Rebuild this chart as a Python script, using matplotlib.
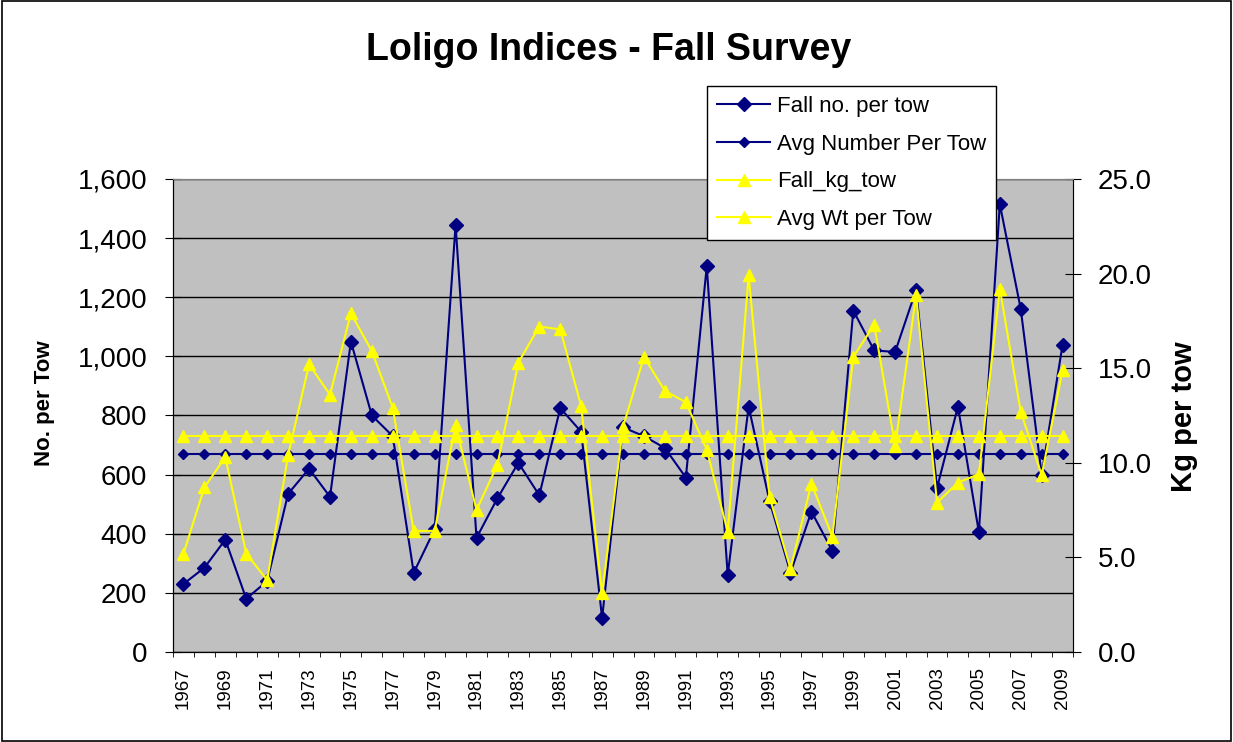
import matplotlib
matplotlib.use("Agg")
import matplotlib.pyplot as plt
import numpy as np

plt.rcParams['font.family'] = ['Liberation Sans', 'DejaVu Sans']

years = list(range(1967, 2010))
fall_no = [230, 285, 380, 180, 240, 535, 620, 525, 1050, 800,
           730, 268, 415, 1445, 386, 520, 640, 530, 825, 745,
           115, 760, 730, 690, 590, 1305, 260, 830, 510, 268,
           475, 342, 1155, 1020, 1015, 1225, 555, 830, 405, 1515,
           1160, 600, 1040]
avg_no = [670] * len(years)
fall_kg = [5.2, 8.7, 10.3, 5.2, 3.8, 10.4, 15.2, 13.6, 17.9, 15.9,
           12.9, 6.4, 6.4, 12.0, 7.5, 9.9, 15.3, 17.2, 17.05, 13.0,
           3.1, 11.9, 15.6, 13.8, 13.2, 10.7, 6.35, 19.9, 8.2, 4.4,
           8.9, 6.1, 15.6, 17.3, 10.9, 18.85, 7.9, 8.95, 9.4, 19.2,
           12.7, 9.35, 14.9]
avg_kg = [11.4] * len(years)

navy = '#000080'
yellow = '#FFFF00'

fig = plt.figure(figsize=(12.33, 7.42), dpi=100)
fig.patches.append(plt.Rectangle((0.002, 0.002), 0.996, 0.996, transform=fig.transFigure,
                                 fill=False, edgecolor='black', linewidth=1.2))

ax = fig.add_axes([0.1403, 0.1213, 0.7300, 0.6375])
ax.set_facecolor('#C0C0C0')
x = np.arange(len(years))

l1, = ax.plot(x, fall_no, color=navy, marker='D', markersize=7.6, linewidth=1.5, label='Fall no. per tow', zorder=4)
l2, = ax.plot(x, avg_no, color=navy, marker='D', markersize=5.2, linewidth=1.5, label='Avg Number Per Tow', zorder=3)
ax.set_ylim(0, 1600)
ax.set_xlim(-0.5, len(years) - 0.5)
ax.set_yticks(np.arange(0, 1601, 200))
ax.set_yticklabels([f'{v:,}' for v in range(0, 1601, 200)], fontsize=20)
ax.yaxis.grid(True, color='black', linewidth=1)
ax.set_axisbelow(True)

ax.set_xticks(np.arange(-0.5, len(years), 1), minor=True)
ax.set_xticks(np.arange(0, len(years), 2))
ax.set_xticklabels([str(y) for y in years[::2]], rotation=90, fontsize=13.5)
ax.tick_params(axis='x', which='major', length=0, pad=11)
ax.tick_params(axis='x', which='minor', length=3.5, direction='out', color='black')
ax.tick_params(axis='y', length=12, direction='inout', pad=12.5)

for s in ['top', 'right']:
    ax.spines[s].set_color('gray')
ax.spines['left'].set_color('black')
ax.spines['bottom'].set_color('black')

ax2 = ax.twinx()
l3, = ax2.plot(x, fall_kg, color=yellow, marker='^', markersize=8, linewidth=1.5, label='Fall_kg_tow', zorder=4)
l4, = ax2.plot(x, avg_kg, color=yellow, marker='^', markersize=8, linewidth=1.5, label='Avg Wt per Tow', zorder=3)
ax2.set_ylim(0, 25)
ax2.set_yticks(np.arange(0, 25.1, 5))
ax2.set_yticklabels([f'{v:.1f}' for v in np.arange(0, 25.1, 5)], fontsize=20)
ax2.tick_params(axis='y', length=12, direction='inout', pad=11.5)
ax2.spines['right'].set_color('black')
ax2.spines['top'].set_color('gray')

fig.text(0.0357, 0.457, 'No. per Tow', rotation=90, ha='center', va='center',
         fontsize=16, fontweight='bold')
fig.text(0.960, 0.439, 'Kg per tow', rotation=90, ha='center', va='center',
         fontsize=21, fontweight='bold')

fig.text(0.494, 0.919, 'Loligo Indices - Fall Survey', ha='center', va='baseline',
         fontsize=27, fontweight='bold')

leg = fig.legend(handles=[l1, l2, l3, l4], loc='upper left', bbox_to_anchor=(0.5734, 0.884),
                 borderaxespad=0, fontsize=16, frameon=True, fancybox=False, edgecolor='black',
                 framealpha=1, handlelength=2.4, handletextpad=0.3, labelspacing=0.75, borderpad=0.45)
leg.get_frame().set_linewidth(1)
leg.set_zorder(10)

fig.savefig('out.png', dpi=100)
